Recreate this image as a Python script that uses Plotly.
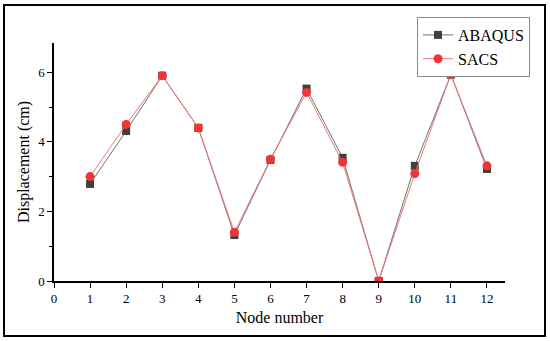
import plotly.graph_objects as go

nodes = [1, 2, 3, 4, 5, 6, 7, 8, 9, 10, 11, 12]
abaqus = [2.79, 4.31, 5.90, 4.40, 1.32, 3.48, 5.53, 3.54, 0.0, 3.31, 5.93, 3.22]
sacs = [3.00, 4.50, 5.90, 4.40, 1.40, 3.50, 5.42, 3.41, 0.0, 3.09, 5.93, 3.31]
x_ticks = list(range(0, 13))
y_ticks = [0, 2, 4, 6]

font = "Liberation Serif"

fig = go.Figure()
fig.add_trace(go.Scatter(
    x=nodes, y=abaqus, name="ABAQUS", mode="lines+markers",
    line=dict(color="#707070", width=1),
    marker=dict(symbol="square", size=8, color="#404040"),
))
fig.add_trace(go.Scatter(
    x=nodes, y=sacs, name="SACS", mode="lines+markers",
    line=dict(color="#f07878", width=1),
    marker=dict(symbol="circle", size=9, color="#f03535"),
))

PW, PH = 451, 238
fig.update_layout(
    width=550, height=341,
    margin=dict(l=54, r=45, t=43, b=60, autoexpand=False),
    paper_bgcolor="white", plot_bgcolor="white",
    font=dict(family=font, size=13, color="black"),
    showlegend=True,
    legend=dict(
        x=(417 - 54) / PW, y=(281 - 17) / PH, xref="paper", yref="paper",
        xanchor="left", yanchor="top",
        bgcolor="white", bordercolor="#8a8a8a", borderwidth=1,
        font=dict(family=font, size=16, color="black"),
        tracegroupgap=0, itemwidth=30,
    ),
    xaxis=dict(
        range=[0, 12.5], tickvals=x_ticks, ticktext=[str(v) for v in x_ticks],
        showgrid=False, zeroline=False, showline=True, linecolor="black", linewidth=1.5,
        ticks="outside", ticklen=5, tickwidth=1, tickcolor="black",
        tickfont=dict(family=font, size=13),
        title=dict(text="Node number", font=dict(family=font, size=16), standoff=6),
        automargin=False,
    ),
    yaxis=dict(
        range=[0, 6.84], tickvals=y_ticks,
        showgrid=False, zeroline=False, showline=True, linecolor="black", linewidth=1.5,
        ticks="outside", ticklen=5, tickwidth=1, tickcolor="black",
        tickfont=dict(family=font, size=13),
        title=dict(text="Displacement (cm)", font=dict(family=font, size=16), standoff=5),
        minor=dict(tickvals=[1, 3, 5], ticks="outside", ticklen=3, tickcolor="black", tickwidth=1),
        automargin=False,
    ),
    shapes=[dict(
        type="rect", xref="paper", yref="paper",
        x0=(4 - 54) / PW, x1=(545 - 54) / PW, y0=(281 - 336) / PH, y1=(281 - 5) / PH,
        line=dict(color="black", width=2), fillcolor="rgba(0,0,0,0)", layer="below",
    )],
)

fig.write_html("out.html", config={"displayModeBar": False},
               post_script="document.body.style.margin='0';")
